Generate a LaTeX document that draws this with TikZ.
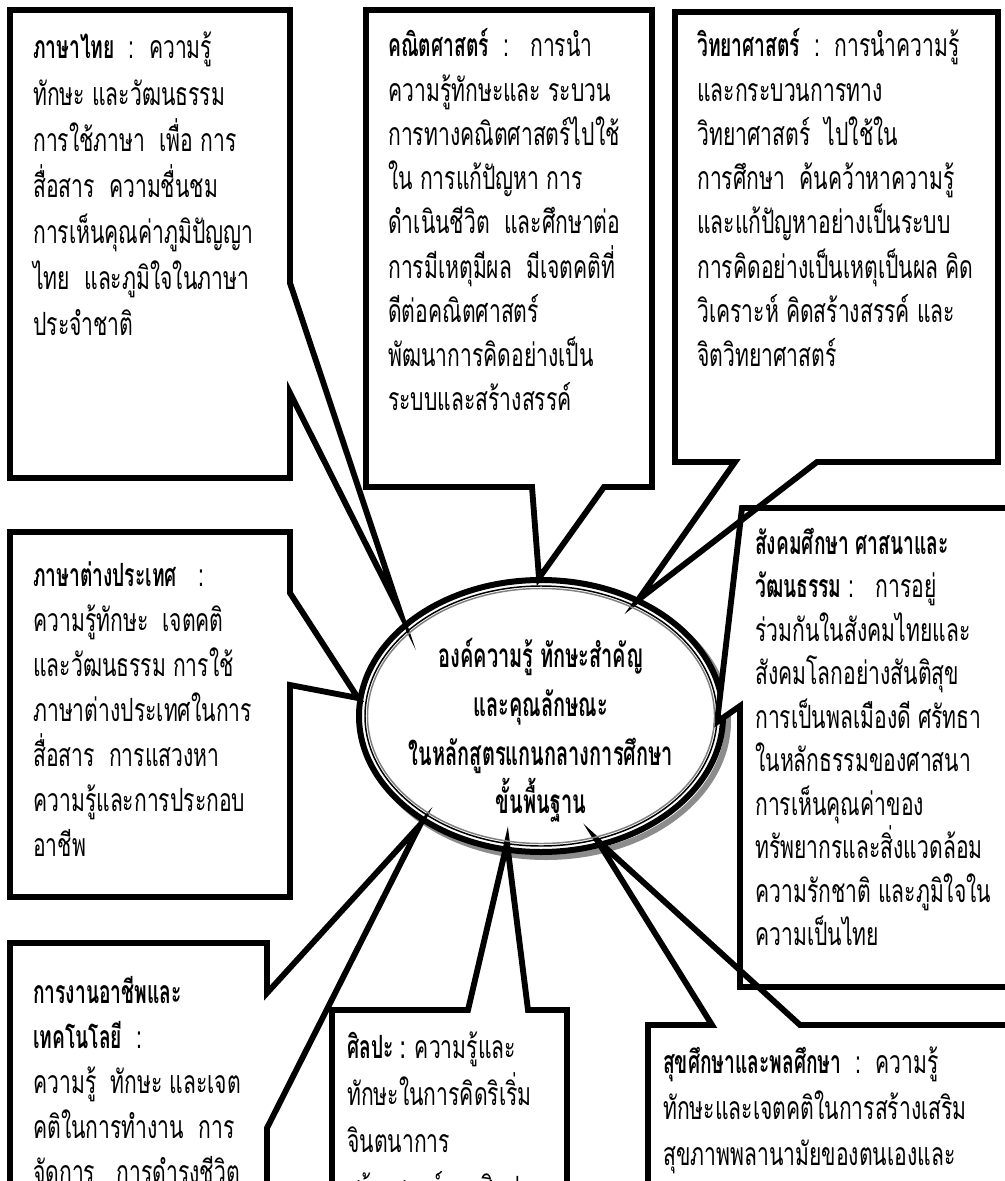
\documentclass[tikz,border=0pt]{standalone}
\usepackage{fontspec}
\setmainfont[Script=Thai,FakeStretch=0.66,BoldFeatures={FakeStretch=0.6}]{Loma}
\begin{document}
\begin{tikzpicture}[x=0.75pt,y=-0.75pt]
\tikzset{
  bubblefill/.style={fill=white},
  bubbleline/.style={draw=black,line width=4.4pt,line join=miter,miter limit=30},
  ln/.style={anchor=base west,inner sep=0pt,font=\fontsize{24}{28}\selectfont},
  hubtext/.style={anchor=base,inner sep=0pt,font=\fontsize{25}{29}\selectfont\bfseries},
  % callout outlines, tail tips pointing at the central ellipse
  thaiB/.style={insert path={(10,10) -- (290,10) -- (290,283) -- (400,612) -- (290,393) -- (290,478) -- (10,478) -- cycle}},
  mathB/.style={insert path={(366,10) -- (652,10) -- (652,487) -- (604,487) -- (539,578) -- (532,487) -- (366,487) -- cycle}},
  sciB/.style={insert path={(675,12) -- (998,12) -- (998,462) -- (817,462) -- (638,600) -- (735,462) -- (675,462) -- cycle}},
  forB/.style={insert path={(10,532) -- (290,532) -- (290,593) -- (358,698) -- (290,685) -- (290,897) -- (10,897) -- cycle}},
  socB/.style={insert path={(742,508) -- (1012,508) -- (1012,987) -- (740,987) -- (740,706) -- (717,722) -- cycle}},
  carB/.style={insert path={(10,943) -- (267,943) -- (267,993) -- (420,825) -- (267,1128) -- (267,1220) -- (10,1220) -- cycle}},
  artB/.style={insert path={(332,1010) -- (468,1010) -- (507,843) -- (528,1010) -- (567,1010) -- (567,1220) -- (332,1220) -- cycle}},
  hltB/.style={insert path={(648,1025) -- (712,1025) -- (597,840) -- (800,1025) -- (1012,1025) -- (1012,1220) -- (648,1220) -- cycle}},
}
% one node per printed line: name, x, first baseline, line pitch, lines
\newcommand\textlines[5]{%
  \foreach \t [count=\i from 0] in {#5}{\node[ln] (#1-\i) at (#2,{#3+#4*\i}) {\t};}}

\useasboundingbox (0,0) rectangle (1005,1181);
\clip (0,0) rectangle (1005,1181);
\fill[white] (0,0) rectangle (1005,1181);

% central ellipse with shadow and double rim
\coordinate (hub) at (541,716);
\draw[black!45,line width=4.5pt] ([shift={(5,5)}]hub) ellipse [x radius=182,y radius=136];
\draw[black,fill=white,line width=4.5pt] (hub) ellipse [x radius=182,y radius=136];

% callouts: fills first, then outlines so every tail stays visible
\foreach \s in {thaiB,mathB,sciB,forB,socB,carB,artB,hltB}{\path[bubblefill,\s];}
\foreach \s in {thaiB,mathB,sciB,forB,socB,carB,artB,hltB}{\path[bubbleline,\s];}

\draw[black,line width=1.1pt] (hub) ellipse [x radius=176,y radius=130];
\draw[black!50,line width=1.1pt] (hub) ellipse [x radius=173.5,y radius=127.5];

% centre title
\node[hubtext] (hub-0) at (541,667) {องค์ความรู้ ทักษะสำคัญ};
\node[hubtext] (hub-1) at (541,716) {และคุณลักษณะ};
\node[hubtext] (hub-2) at (541,765) {ในหลักสูตรแกนกลางการศึกษา};
\node[hubtext] (hub-3) at (541,813) {ขั้นพื้นฐาน};

\textlines{thai}{33}{59}{46}{\textbf{ภาษาไทย}\ \ :\ \ ความรู้,
  ทักษะ และวัฒนธรรม,
  การใช้ภาษา\ \ เพื่อ การ,
  สื่อสาร\ \ ความชื่นชม,
  การเห็นคุณค่าภูมิปัญญา,
  ไทย\ \ และภูมิใจในภาษา,
  ประจำชาติ}

\textlines{math}{388}{57}{44.2}{\textbf{คณิตศาสตร์}\ \ :\ \ \ การนำ,
  ความรู้ทักษะและ ระบวน,
  การทางคณิตศาสตร์ไปใช้,
  ใน การแก้ปัญหา การ,
  ดำเนินชีวิต\ \ และศึกษาต่อ,
  การมีเหตุมีผล\ \ มีเจตคติที่,
  ดีต่อคณิตศาสตร์,
  พัฒนาการคิดอย่างเป็น,
  ระบบและสร้างสรรค์}

\textlines{sci}{697}{57}{44.2}{\textbf{วิทยาศาสตร์}\ \ :\ \ การนำความรู้,
  และกระบวนการทาง,
  วิทยาศาสตร์\ \ ไปใช้ใน,
  การศึกษา\ \ ค้นคว้าหาความรู้,
  และแก้ปัญหาอย่างเป็นระบบ,
  การคิดอย่างเป็นเหตุเป็นผล\ คิด,
  วิเคราะห์ คิดสร้างสรรค์\ และ,
  จิตวิทยาศาสตร์}

\textlines{for}{33}{586}{45}{\textbf{ภาษาต่างประเทศ}\ \ \ :,
  ความรู้ทักษะ\ \ เจตคติ,
  และวัฒนธรรม การใช้,
  ภาษาต่างประเทศในการ,
  สื่อสาร\ \ การแสวงหา,
  ความรู้และการประกอบ,
  อาชีพ}

\textlines{soc}{755}{554}{43.5}{\textbf{สังคมศึกษา ศาสนาและ},
  \textbf{วัฒนธรรม}\ :\ \ \ การอยู่,
  ร่วมกันในสังคมไทยและ,
  สังคมโลกอย่างสันติสุข,
  การเป็นพลเมืองดี\ ศรัทธา,
  ในหลักธรรมของศาสนา,
  การเห็นคุณค่าของ,
  ทรัพยากรและสิ่งแวดล้อม,
  ความรักชาติ และภูมิใจใน,
  ความเป็นไทย}

\textlines{car}{33}{1003}{45}{\textbf{การงานอาชีพและ},
  \textbf{เทคโนโลยี}\ \ :,
  ความรู้\ \ ทักษะ และเจต,
  คติในการทำงาน\ \ การ,
  จัดการ\ \ \ การดำรงชีวิต}

\textlines{art}{347}{1058}{47}{\textbf{ศิลปะ :} ความรู้และ,
  ทักษะในการคิดริเริ่ม,
  จินตนาการ,
  สร้างสรรค์งานศิลปะ}

\textlines{hlt}{663}{1073}{46}{\textbf{สุขศึกษาและพลศึกษา}\ \ :\ \ ความรู้,
  ทักษะและเจตคติในการสร้างเสริม,
  สุขภาพพลานามัยของตนเองและ}
\end{tikzpicture}
\end{document}
